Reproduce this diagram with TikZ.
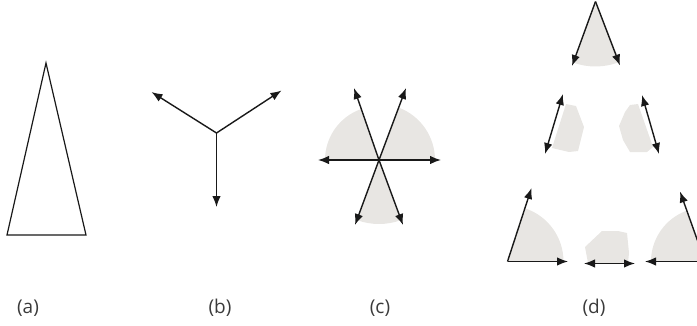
\documentclass[tikz,border=0pt]{standalone}
\usepackage{fontspec}
\setmainfont{Open Sans}
\usetikzlibrary{arrows.meta}
\definecolor{shade}{RGB}{232,230,227}
\definecolor{ink}{RGB}{25,25,25}
\tikzset{
  ln/.style={draw=ink, line width=1.4pt},
  arr/.style={ln, -{Latex[length=11pt,width=8.5pt]}},
  darr/.style={ln, {Latex[length=11pt,width=8.5pt]}-{Latex[length=11pt,width=8.5pt]}},
  gray/.style={fill=shade, draw=none},
  lbl/.style={font=\fontsize{19}{22}\selectfont, text=ink!85, inner sep=0pt}
}
\begin{document}
\begin{tikzpicture}[x=1pt,y=-1pt]
\useasboundingbox (0,0) rectangle (697,325);
\clip (0,0) rectangle (697,325);
% (a)
\coordinate (a1) at (7,235);
\coordinate (a2) at (86,235);
\coordinate (a3) at (46,63);
\draw[ln, line width=1.2pt, line join=miter] (a1) -- (a2) -- (a3) -- cycle;
% (b)
\coordinate (bc) at (216.5,133);
\coordinate (bl) at (151.5,92);
\coordinate (br) at (281.5,90.5);
\coordinate (bd) at (216.5,207);
\draw[arr] (bc) -- (bl);
\draw[arr] (bc) -- (br);
\draw[arr] (bc) -- (bd);
% (c)
\coordinate (cc) at (379,160);
\fill[gray] (cc) -- ++(-180:54) arc[start angle=-180, end angle=-109, radius=54] -- cycle;
\fill[gray] (cc) -- ++(0:56) arc[start angle=0, end angle=-69, radius=56] -- cycle;
\fill[gray] (cc) -- ++(70:64) arc[start angle=70, end angle=110, radius=64] -- cycle;
\coordinate (cl) at (318,160);
\coordinate (cr) at (441,160);
\coordinate (cul) at (354,88);
\coordinate (cur) at (406,88);
\coordinate (cdl) at (355,225);
\coordinate (cdr) at (403,225);
\draw[darr] (cl) -- (cr);
\draw[arr] (cc) -- (cul);
\draw[arr] (cc) -- (cdr);
\draw[arr] (cc) -- (cur);
\draw[arr] (cc) -- (cdl);
% (d) top
\coordinate (dt) at (595.5,1.5);
\fill[gray] (dt) -- ++(68:65) arc[start angle=68, end angle=110, radius=65] -- cycle;
\coordinate (dtl) at (572,66);
\coordinate (dtr) at (620,65.5);
\draw[arr] (dt) -- (dtl);
\draw[arr] (dt) -- (dtr);
% (d) middle left
\fill[gray] (566,104) -- (576,106) -- (584,127) -- (578,151) -- (569,152) -- (552,148) -- cycle;
\coordinate (dml1) at (545,154);
\coordinate (dml2) at (563,94);
\draw[darr] (dml1) -- (dml2);
% (d) middle right
\fill[gray] (630,105) -- (638,104) -- (653,147) -- (647,152) -- (630,152) -- (623,140) -- (619,126) -- (625,112) -- cycle;
\coordinate (dmr1) at (642,95);
\coordinate (dmr2) at (659,154);
\draw[darr] (dmr1) -- (dmr2);
% (d) bottom left
\coordinate (dbl) at (507.5,261.5);
\fill[gray] (dbl) -- ++(0:56) arc[start angle=0, end angle=-72, radius=56] -- cycle;
\coordinate (dblu) at (531.5,188);
\coordinate (dblr) at (568,261.5);
\draw[arr] (dbl) -- (dblu);
\draw[arr] (dbl) -- (dblr);
% (d) bottom middle
\fill[gray] (585,247) -- (602,231) -- (618,231) -- (627,233) -- (629,253) -- (628,263) -- (588,263) -- cycle;
\coordinate (dbm1) at (584,263.5);
\coordinate (dbm2) at (635,263.5);
\draw[darr] (dbm1) -- (dbm2);
% (d) bottom right
\coordinate (dbr) at (705,261.5);
\fill[gray] (dbr) -- ++(-180:54) arc[start angle=-180, end angle=-110, radius=54] -- cycle;
\coordinate (dbru) at (680,191.5);
\coordinate (dbrl) at (645,261.5);
\draw[arr] (dbr) -- (dbru);
\draw[arr] (dbr) -- (dbrl);
% labels
\node[lbl] (la) at (28,308) {(a)};
\node[lbl] (lb) at (220,308) {(b)};
\node[lbl] (lc) at (380,308) {(c)};
\node[lbl] (ld) at (594,308) {(d)};
\end{tikzpicture}
\end{document}
